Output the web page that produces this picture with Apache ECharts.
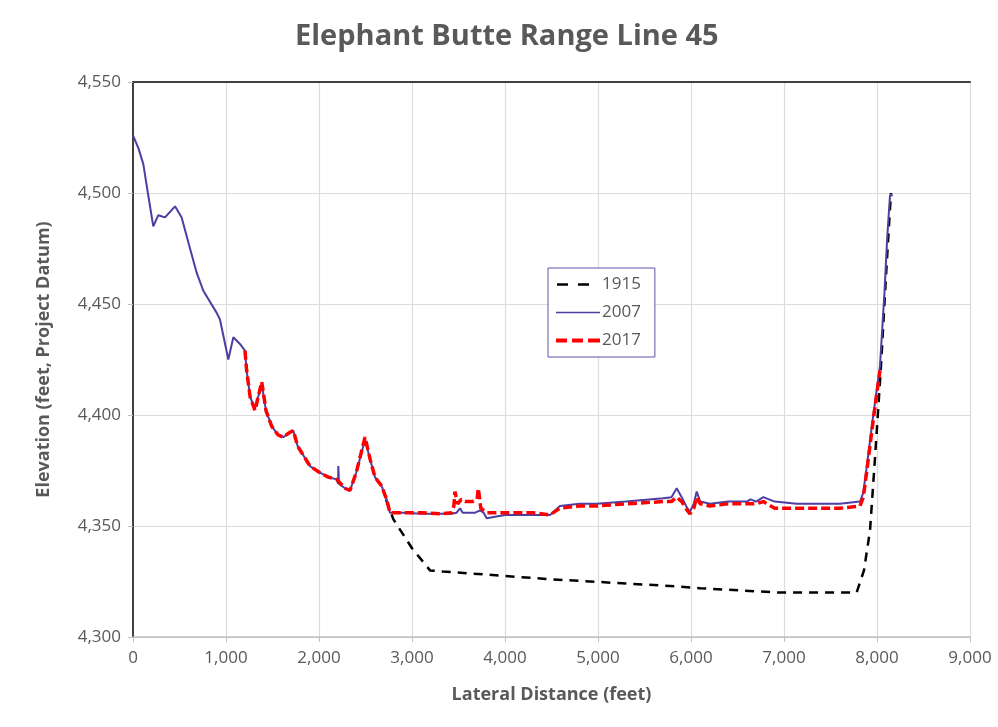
<!DOCTYPE html>
<html>
<head>
<meta charset="utf-8">
<script src="https://cdn.jsdelivr.net/npm/echarts@6/dist/echarts.min.js"></script>
<style>html,body{margin:0;padding:0;background:#fff;}#c{width:998px;height:727px;}</style>
</head>
<body>
<div id="c"></div>
<script>
const title = 'Elephant Butte Range Line 45';
const xName = 'Lateral Distance (feet)';
const yName = 'Elevation (feet, Project Datum)';
const seriesNames = ['1915', '2007', '2017'];

const s1915 = [[2720,4362],[2800,4353],[3000,4340],[3194,4330],[3333,4329.5],[4500,4326],[5882,4322.7],[6097,4322],[6957,4320],[7781,4320],[7860,4330],[7925,4348],[7979,4381],[8040,4420],[8100,4465],[8150,4500]];

const s2007 = [[0,4526],[60,4520],[111,4513],[160,4500],[218,4485],[272,4490],[344,4489],[452,4494],[523,4489],[600,4477],[685,4464],[756,4456],[900,4446],[935,4443],[1025,4425],[1079,4435],[1150,4432],[1204,4429],[1222,4420],[1260,4408],[1312,4403],[1384,4414],[1430,4402],[1491,4395],[1560,4391],[1616,4390],[1680,4392],[1724,4393],[1770,4386],[1814,4383],[1903,4377],[2011,4374],[2100,4372],[2190,4371],[2205,4369],[2208,4377],[2215,4369],[2280,4367],[2333,4366],[2400,4374],[2495,4389],[2550,4380],[2602,4372],[2674,4368],[2727,4362],[2763,4356],[2900,4356],[3100,4355.5],[3300,4355.5],[3427,4355.5],[3480,4356],[3516,4358],[3545,4356],[3600,4356],[3680,4356],[3731,4357],[3770,4356],[3803,4353.5],[4000,4355],[4300,4355],[4484,4355],[4591,4359],[4800,4360],[4986,4360],[5300,4361],[5702,4362.5],[5790,4363],[5846,4367],[5900,4363],[5960,4358],[5989,4356.5],[6030,4360],[6061,4365.5],[6100,4361],[6204,4360],[6400,4361],[6599,4361],[6640,4362],[6700,4361],[6778,4363],[6900,4361],[7136,4360],[7400,4360],[7600,4360],[7817,4361],[7853,4365],[7900,4380],[7960,4400],[8032,4422],[8080,4455],[8110,4480],[8140,4499],[8170,4499]];

const s2017 = [[1204,4429],[1222,4420],[1260,4408],[1312,4402],[1384,4415],[1430,4402],[1491,4395],[1560,4391],[1616,4390],[1680,4392],[1724,4393],[1770,4386],[1814,4383],[1903,4377],[2011,4374],[2100,4372],[2190,4371],[2280,4367],[2333,4366],[2400,4374],[2495,4390],[2550,4380],[2602,4372],[2674,4368],[2727,4362],[2763,4356],[2900,4356],[3100,4356],[3300,4355.5],[3427,4356],[3450,4359],[3462,4365.5],[3490,4360],[3530,4362],[3570,4361],[3650,4361],[3700,4362],[3713,4367],[3740,4358],[3803,4356],[4000,4356],[4300,4356],[4484,4355],[4591,4358],[4800,4359],[4986,4359],[5300,4360],[5702,4361],[5790,4361],[5846,4363],[5900,4361],[5960,4357],[5989,4355.5],[6030,4358],[6061,4363],[6100,4360],[6204,4359],[6400,4360],[6599,4360],[6700,4360],[6778,4361],[6900,4358],[7136,4358],[7400,4358],[7600,4358],[7817,4359],[7853,4363],[7900,4378],[7960,4398],[8032,4420]];

const xTicks = {min:0, max:9000, interval:1000};
const yTicks = {min:4300, max:4550, interval:50};

const fmt = v => v.toLocaleString('en-US');
const font = '"Open Sans", Lato, sans-serif';

// legend icon shapes (tiny corner squares fix the bounding box so strokes keep their thickness)
const corners = 'M0,0h0.05v0.05h-0.05zM43.95,5.95h0.05v0.05h-0.05z';
const icons = [
  'path://' + corners + 'M1,1.75h11v2.5h-11zM22,1.75h11v2.5h-11z',
  'path://' + corners + 'M0,2.25h44v1.5h-44z',
  'path://' + corners + 'M0,1h11v4h-11zM16,1h11v4h-11zM32,1h12v4h-12z'
];

const chart = echarts.init(document.getElementById('c'));
chart.setOption({
  backgroundColor: '#fff',
  animation: false,
  title: {
    text: title, left: 295, top: 22, padding: 0,
    textStyle: {fontFamily: font, fontSize: 29, fontWeight: 'bold', color: '#595959'}
  },
  legend: {
    data: seriesNames.map((n, i) => ({name: n, icon: icons[i]})),
    orient: 'vertical',
    left: 548, top: 268,
    padding: [8, 14, 8, 8],
    itemGap: 11,
    itemWidth: 44, itemHeight: 6,
    borderColor: '#5a55a8', borderWidth: 1,
    backgroundColor: '#fff',
    textStyle: {fontFamily: font, fontSize: 17, color: '#595959', padding: [0,0,0,-3]}
  },
  grid: {left: 133, right: 28, top: 82, bottom: 90},
  xAxis: [{
    type: 'value', min: xTicks.min, max: xTicks.max, interval: xTicks.interval,
    name: xName, nameLocation: 'middle', nameGap: 49,
    nameTextStyle: {fontFamily: font, fontSize: 18, fontWeight: 'bold', color: '#595959'},
    axisLine: {show: true, onZero: false, lineStyle: {color: '#bfbfbf', width: 1.5}},
    axisTick: {show: true, length: 5, lineStyle: {color: '#bfbfbf'}},
    axisLabel: {fontFamily: font, fontSize: 17, color: '#595959', margin: 13, formatter: fmt},
    splitLine: {show: true, lineStyle: {color: '#dcdcdc', width: 1.2}}
  }, {
    type: 'value', position: 'top', min: xTicks.min, max: xTicks.max, interval: xTicks.interval,
    axisLine: {show: true, lineStyle: {color: '#404040', width: 2}},
    axisTick: {show: false}, axisLabel: {show: false}, splitLine: {show: false}
  }],
  yAxis: [{
    type: 'value', min: yTicks.min, max: yTicks.max, interval: yTicks.interval,
    name: yName, nameLocation: 'middle', nameGap: 80, nameRotate: 90,
    nameTextStyle: {fontFamily: font, fontSize: 18, fontWeight: 'bold', color: '#595959'},
    axisLine: {show: true, onZero: false, lineStyle: {color: '#bfbfbf', width: 1.5}},
    axisTick: {show: true, length: 5, lineStyle: {color: '#bfbfbf'}},
    axisLabel: {fontFamily: font, fontSize: 17, color: '#595959', margin: 12, formatter: fmt},
    splitLine: {show: true, lineStyle: {color: '#dcdcdc', width: 1.2}}
  }, {
    type: 'value', position: 'right', min: yTicks.min, max: yTicks.max, interval: yTicks.interval,
    axisLine: {show: true, lineStyle: {color: '#404040', width: 2}},
    axisTick: {show: false}, axisLabel: {show: false}, splitLine: {show: false}
  }],
  series: [
    {name: seriesNames[0], type: 'line', data: s1915, symbol: 'none', z: 2,
     lineStyle: {color: '#000', width: 2.5, type: [9, 7]}, itemStyle: {color: '#000'}},
    {name: seriesNames[1], type: 'line', data: s2007, symbol: 'none', z: 3,
     lineStyle: {color: '#4b3fa3', width: 2}, itemStyle: {color: '#4b3fa3'}},
    {name: seriesNames[2], type: 'line', data: s2017, symbol: 'none', z: 4,
     lineStyle: {color: '#ff0000', width: 3.5, type: [9, 4]}, itemStyle: {color: '#ff0000'}}
  ]
});
</script>
</body>
</html>
